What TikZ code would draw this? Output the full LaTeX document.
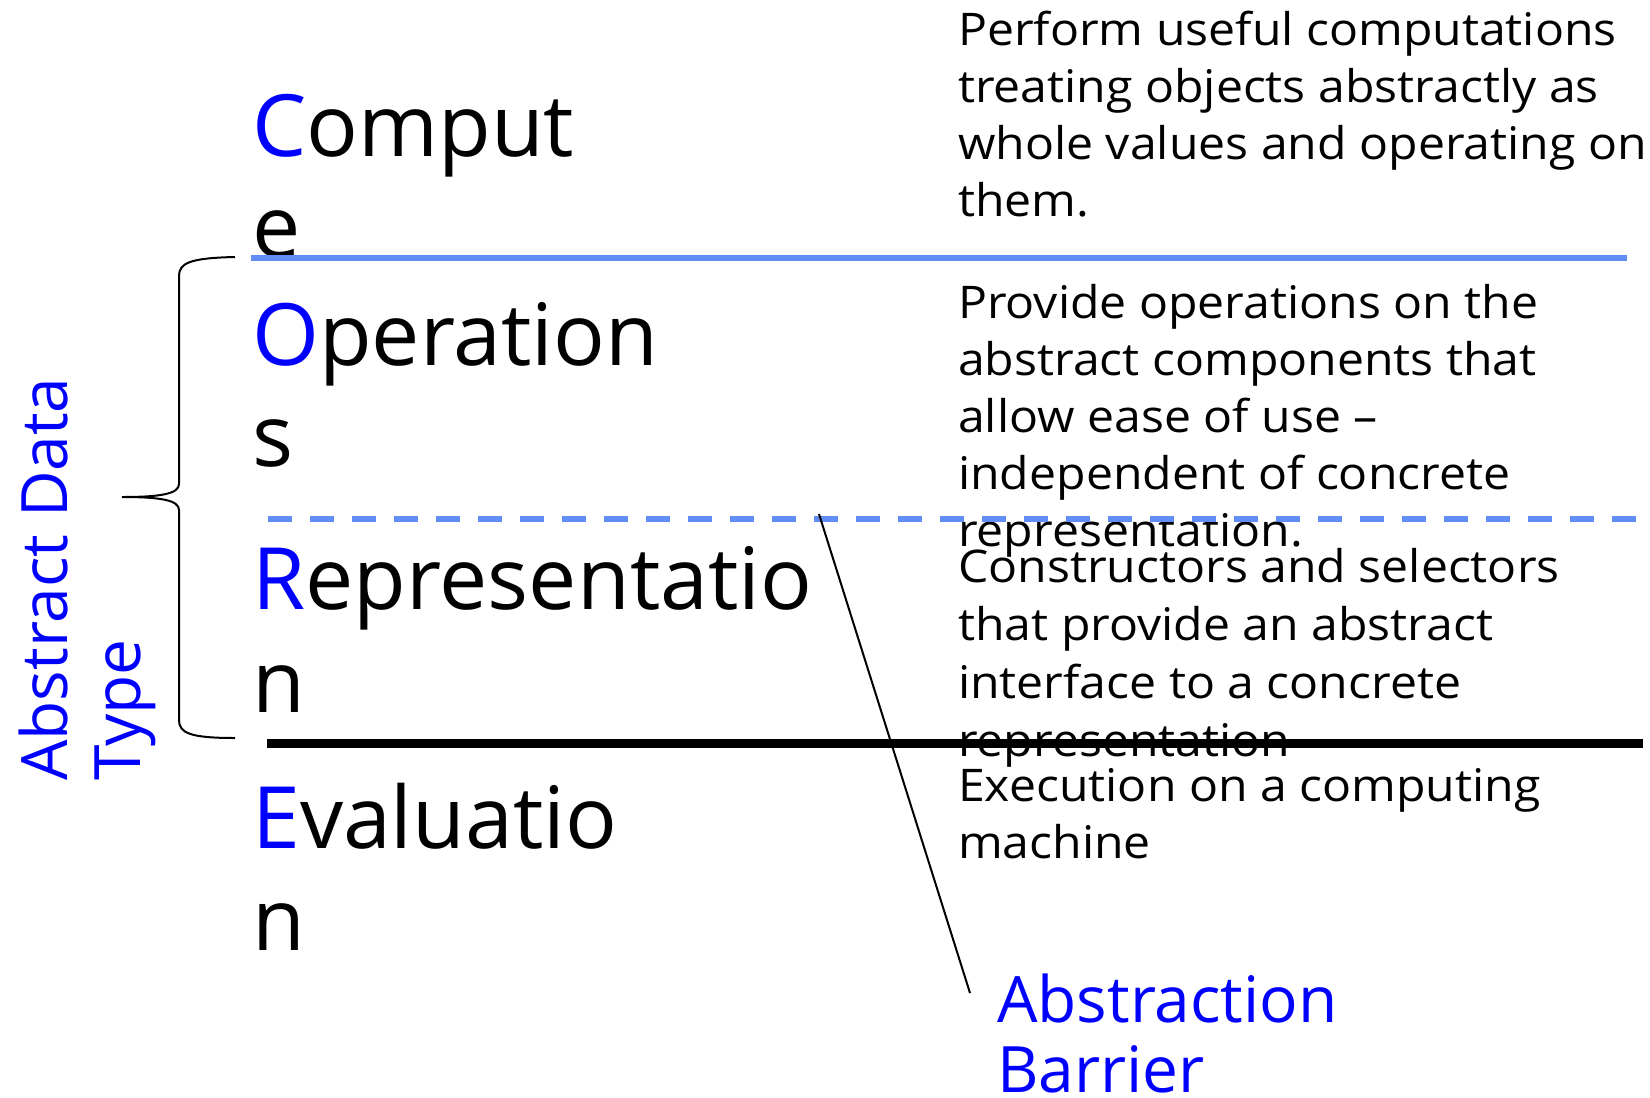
\documentclass[tikz,border=0pt]{standalone}
\usepackage{fontspec}
\setmainfont{Open Sans}
\newfontfamily\descfont[FakeStretch=1.07]{Open Sans}
\definecolor{adtblue}{RGB}{0,0,255}
\definecolor{lineblue}{RGB}{96,142,246}
\begin{document}
\begin{tikzpicture}[x=1pt,y=-1pt,
  big/.style={anchor=base west, inner sep=0pt, font=\fontsize{86}{101}\selectfont},
  desc/.style={anchor=base west, inner sep=0pt, font=\descfont\fontsize{45}{57}\selectfont},
  lbl/.style={anchor=base west, inner sep=0pt, text=adtblue, font=\fontsize{64}{72}\selectfont},
  blueline/.style={draw=lineblue, line width=6pt},
  thickline/.style={draw=black, line width=9pt},
  thinline/.style={draw=black, line width=2pt}]
\useasboundingbox (0,0) rectangle (1650,1098);

% big words
\node[big] (c1) at (252,156) {{\color{adtblue}C}omput};
\node[big] (c2) at (252,257) {e};
\node[big] (o1) at (252,365) {{\color{adtblue}O}peration};
\node[big] (o2) at (252,466) {s};
\node[big] (r1) at (252,609) {{\color{adtblue}R}epresentatio};
\node[big] (r2) at (252,712) {n};
\node[big] (e1) at (252,848) {{\color{adtblue}E}valuatio};
\node[big] (e2) at (252,950) {n};

% descriptions
\node[desc] (d1a) at (958,45) {Perform useful computations};
\node[desc] (d1b) at (958,102) {treating objects abstractly as};
\node[desc] (d1c) at (958,159) {whole values and operating on};
\node[desc] (d1d) at (958,216) {them.};

\node[desc] (d2a) at (958,318) {Provide operations on the};
\node[desc] (d2b) at (958,375) {abstract components that};
\node[desc] (d2c) at (958,432) {allow ease of use –};
\node[desc] (d2d) at (958,489) {independent of concrete};
\node[desc] (d2e) at (958,546) {representation.};

\node[desc] (d3a) at (958,582) {Constructors and selectors};
\node[desc] (d3b) at (958,640) {that provide an abstract};
\node[desc] (d3c) at (958,698) {interface to a concrete};
\node[desc] (d3d) at (958,756) {representation};

\node[desc] (d4a) at (958,801) {Execution on a computing};
\node[desc] (d4b) at (958,858) {machine};

% blue labels
\node[lbl, rotate=90] (adt1) at (67,781) {Abstract Data};
\node[lbl, rotate=90] (adt2) at (140,781) {Type};
\node[lbl] (ab1) at (997,1022) {Abstraction};
\node[lbl] (ab2) at (997,1092) {Barrier};

% layer lines
\draw[blueline] (251,258) -- (1627,258);
\draw[blueline, dash pattern=on 24pt off 18pt] (268,519) -- (1650,519);
\draw[thickline] (267,743) -- (1643,743);

% abstraction barrier connector
\coordinate (bartop) at (819,514);
\coordinate (barbot) at (970,993);
\draw[thinline] (bartop) -- (barbot);

% brace
\draw[line width=2pt] (235,257) .. controls (190,258) and (179,263) .. (179,276)
  -- (179,484) .. controls (179,494) and (160,497) .. (122,497)
  .. controls (160,497) and (179,500) .. (179,510)
  -- (179,720) .. controls (179,733) and (190,738) .. (235,738);
\end{tikzpicture}
\end{document}
